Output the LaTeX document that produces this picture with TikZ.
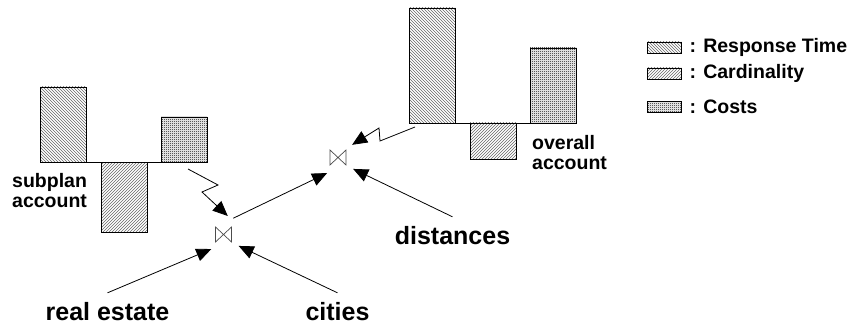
\documentclass[tikz,border=0pt]{standalone}
\usepackage{fontspec}
\setmainfont{Liberation Sans}
\usetikzlibrary{arrows.meta}
\usetikzlibrary{patterns}
\usetikzlibrary{positioning}
\pgfdeclarepatternformonly{finecheck}{\pgfpointorigin}{\pgfpoint{2pt}{2pt}}{\pgfpoint{2pt}{2pt}}{
  \pgfpathrectangle{\pgfpointorigin}{\pgfpoint{1pt}{1pt}}
  \pgfpathrectangle{\pgfpoint{1pt}{1pt}}{\pgfpoint{1pt}{1pt}}
  \pgfusepath{fill}
}
\tikzstyle{bar}=[draw=black,line width=0.8pt,pattern color=black!60]
\tikzstyle{rtbar}=[bar,pattern=north west lines]
\tikzstyle{cardbar}=[bar,pattern=north east lines]
\tikzstyle{costbar}=[bar,pattern=finecheck,pattern color=black]
\tikzstyle{joinop}=[circle,minimum size=24pt,inner sep=0pt,outer sep=7pt,
  path picture={\draw[black!70,line width=0.7pt]
    ([shift={(-8pt,7.5pt)}]path picture bounding box.center) -- ([shift={(-8pt,-7.5pt)}]path picture bounding box.center)
    -- ([shift={(8pt,7.5pt)}]path picture bounding box.center) -- ([shift={(8pt,-7.5pt)}]path picture bounding box.center) -- cycle;}]
\tikzstyle{flow}=[-{Triangle[length=15pt,width=13pt]},line width=0.8pt]
\tikzstyle{relname}=[font=\fontsize{25}{28}\selectfont\bfseries,inner sep=0pt,outer sep=10pt]
\tikzstyle{acctext}=[font=\fontsize{19.5}{20}\selectfont\bfseries,align=left,inner sep=0pt,anchor=west]
\tikzstyle{legbox}=[bar,minimum width=34pt,minimum height=11pt,inner sep=0pt]
\tikzstyle{legtext}=[font=\fontsize{19.5}{20}\selectfont\bfseries,inner sep=0pt]
\newcommand{\drawaccount}[5]{
\pgfmathsetmacro{\accx}{#1}
\pgfmathsetmacro{\accy}{#2}
\draw[line width=0.8pt] (\accx,\accy) -- (\accx+167,\accy);
\draw[rtbar] (\accx,\accy) rectangle ++(46,-#3);
\draw[cardbar] (\accx+61,\accy) rectangle ++(46,#4);
\draw[costbar] (\accx+121,\accy) rectangle ++(46,-#5);
}

\begin{document}
\begin{tikzpicture}[x=1pt,y=-1pt]
  \useasboundingbox (0,0) rectangle (851,326);
  % accounts
  \drawaccount{40}{162}{75}{70}{45}
  \drawaccount{409}{123}{115}{36}{75}
  \node[acctext] (subplan) at (12,191) {subplan\\account};
  \node[acctext] (overall) at (532,153) {overall\\account};
  \coordinate (subacc) at (188,169);
  \coordinate (ovacc) at (415,127);
  % legend
  \node[legbox,pattern=north west lines] (lgrt) at (664,47.5) {};
  \node[legtext,right=8pt of lgrt] (lgrttext) {: Response Time};
  \node[legbox,pattern=north east lines] (lgcard) at (664,73.5) {};
  \node[legtext,right=8pt of lgcard] (lgcardtext) {: Cardinality};
  \node[legbox,pattern=finecheck,pattern color=black] (lgcost) at (664,107) {};
  \node[legtext,right=8pt of lgcost] (lgcosttext) {: Costs};
  % plan
  \node[joinop] (lowjoin) at (223.5,234.5) {};
  \node[joinop] (highjoin) at (338,157.5) {};
  \node[relname] (realestate) at (107.5,312) {real estate};
  \node[relname] (cities) at (337.5,312) {cities};
  \node[relname] (distances) at (452.5,236) {distances};
  \draw[flow] (realestate.north) -- (lowjoin.230);
  \draw[flow] (cities.north) -- (lowjoin.323);
  \draw[flow] (lowjoin.59) -- (highjoin.235);
  \draw[flow] (distances.north) -- (highjoin.323);
  \draw[flow] (subacc) -- (218,185) -- (202,192) -- (lowjoin.77); %subplan
  \draw[flow] (ovacc) -- (380,141) -- (379,128) -- (highjoin.42); %overall
\end{tikzpicture}
\end{document}
